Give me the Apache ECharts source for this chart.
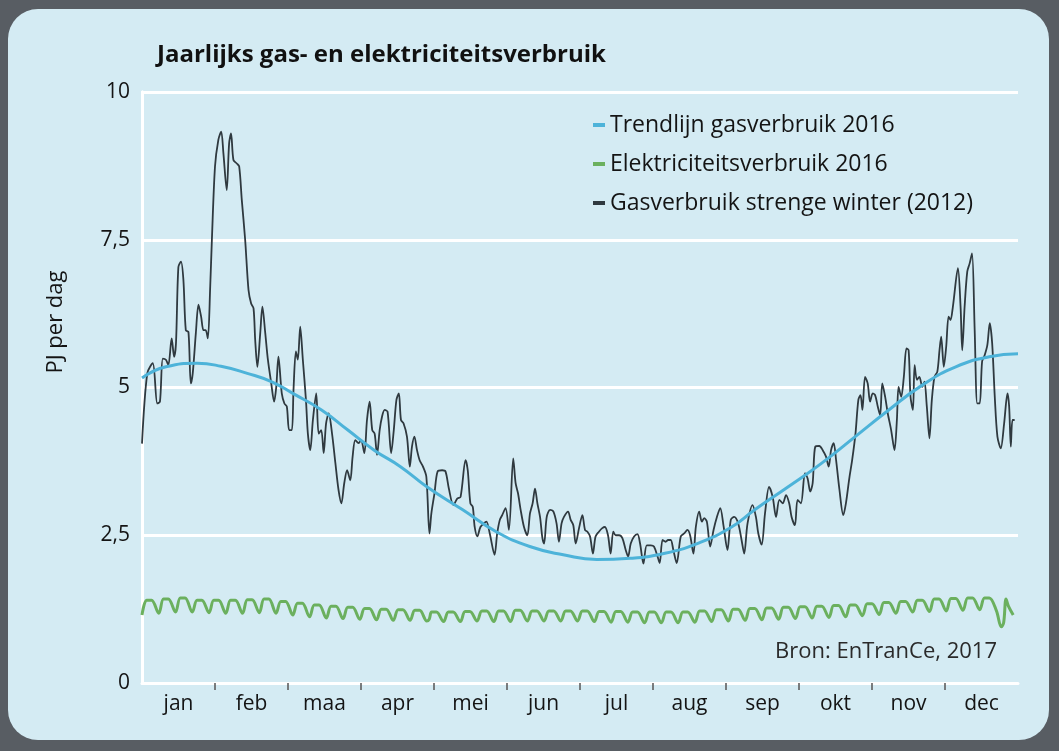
<!DOCTYPE html>
<html>
<head>
<meta charset="utf-8">
<script src="https://cdn.jsdelivr.net/npm/echarts@6/dist/echarts.min.js"></script>
<style>
  html, body { margin: 0; padding: 0; width: 1059px; height: 751px; overflow: hidden; background: #585d63; }
  #panel { position: absolute; left: 8px; top: 9px; width: 1041px; height: 731px; border-radius: 30px; background: #d4ebf3; }
  #chart { position: absolute; left: 0; top: 0; width: 1059px; height: 751px; }
</style>
</head>
<body>
<div id="panel"></div>
<div id="chart"></div>
<script>
// Month labels (x axis)
const months = ['jan','feb','maa','apr','mei','jun','jul','aug','sep','okt','nov','dec'];
// Y-axis ticks
const yTicks = [0, 2.5, 5, 7.5, 10];

// Gas consumption, cold winter 2012 (day of year, PJ per day)
const gasDays = [0,2.2,4.5,6.4,7.5,8.7,10,11,12.4,13.4,14.2,15.2,16.3,17.3,18.3,19.4,20.4,21.2,22.5,23.6,24.7,25.7,26.6,27.5,28.5,29.2,30.5,31.9,33.1,34,35.4,36.4,37.2,38.2,39.6,40.6,41.7,43.1,44.5,45.6,46.6,47.3,48.2,49.4,50.3,51.5,52.6,54,55.2,56.1,57,58.4,59.5,60.5,61.5,62.6,63.3,64.3,65.1,66.1,67.2,68.5,69.3,70.3,71.4,72.8,73.8,74.9,75.9,76.9,78,79.4,80.8,82.1,83.3,84.5,85.7,87,88,89.1,90.5,91.5,92.9,94,95.1,96.2,97.2,98.2,99.3,100.3,101.4,102.6,104.1,105.2,106.3,107.3,108.2,109.3,110.7,111.9,112.8,113.8,114.9,116,117.4,118.8,120.1,120.9,122.2,123.5,125.4,126.8,128.2,130.1,131.7,133.1,135.2,136.1,137.2,138.2,139,140.1,141.4,142.8,143.9,145.3,147.3,148.4,149.5,150.5,151.9,153.3,155.1,156.1,157.1,158.2,159.6,161,162.1,163.2,164.2,165.2,166.3,167.3,168,169.1,170.5,171.9,173.2,174.2,175.3,176.3,178,179.1,180.2,181.2,182.6,184,185.1,186.1,187.2,188.4,189.5,190.9,192.3,193.4,194.7,195.8,196.9,197.9,199.3,200.7,202.1,203.1,204.2,205.6,207,208.1,209.5,210.9,212.6,213.9,215.4,216.3,217.5,218.8,219.8,220.9,222,223.4,225.1,226.5,227.9,229,230.4,231.4,232.8,233.9,234.9,236,237.4,238.8,240.2,241.6,243,244.6,246,247.4,249.1,250.5,251.6,253,255.1,256.5,257.5,258.9,260.3,262,263.5,264.9,266.3,267.7,269.1,270.4,271.4,272.8,273.9,275.3,277,278.1,279.2,280.2,281.3,283,284.4,285.8,286.9,287.9,289,290,291.4,293,294.1,295.5,296.7,298.1,299.3,300.2,301,302.1,303.2,304.2,305.3,306.3,307.4,308.4,309.3,310.5,311.6,313,314.4,315.4,316.1,317.2,318.3,319.4,320.3,321.1,322.1,322.8,323.8,324.8,326,326.9,327.9,329,330,331.1,332.3,333.2,333.9,335,336,337,337.8,338.8,340.9,342,342.7,343.7,344.8,345.8,346.8,347.9,349,350,351,352.1,353.2,354.2,355.2,356.3,357.4,358.8,360.2,361.6,362.3,363,363.7,364.6];
const gasValues = [4.05,5.24,5.41,4.73,4.76,5.49,5.47,5.38,5.83,5.52,5.75,7.04,7.13,6.82,5.97,5.94,5.07,5.24,5.92,6.40,6.20,5.97,5.97,5.83,6.71,7.50,8.74,9.19,9.33,8.97,8.34,9.13,9.30,8.85,8.79,8.74,8.17,7.50,6.65,6.42,6.34,5.80,5.35,5.92,6.37,5.92,5.47,5.07,4.76,5.01,5.52,4.90,4.73,4.68,4.28,4.28,4.96,5.61,5.47,6.03,5.47,4.79,4.22,3.94,4.45,4.90,4.22,4.28,3.89,4.39,4.56,4.22,3.72,3.27,3.04,3.38,3.60,3.43,3.83,4.11,4.06,4.11,3.89,4.45,4.76,4.28,4.22,3.86,4.28,4.51,4.62,4.59,3.89,4.28,4.79,4.90,4.45,4.39,4.17,3.66,4.00,4.17,3.94,3.77,3.66,3.49,2.53,2.87,3.21,3.58,3.60,3.58,3.29,3.01,3.12,3.15,3.77,3.60,3.04,2.98,2.64,2.48,2.64,2.70,2.73,2.53,2.17,2.53,2.76,2.84,2.96,2.59,3.80,3.38,3.21,2.93,2.64,2.50,2.87,3.04,3.29,3.04,2.81,2.45,2.36,2.81,2.93,2.90,2.70,2.39,2.70,2.81,2.90,2.76,2.67,2.36,2.62,2.84,2.59,2.56,2.48,2.19,2.48,2.56,2.62,2.64,2.50,2.19,2.56,2.50,2.50,2.45,2.25,2.14,2.36,2.48,2.52,2.36,2.02,2.33,2.33,2.31,2.14,2.03,2.42,2.39,2.42,2.42,2.25,2.03,2.48,2.53,2.59,2.50,2.19,2.64,2.90,2.73,2.79,2.73,2.31,2.59,2.81,2.96,2.65,2.25,2.76,2.81,2.70,2.42,2.19,2.70,3.01,2.81,2.53,2.34,2.87,3.32,3.15,2.81,3.10,3.04,3.18,3.04,2.81,2.67,3.10,3.04,3.55,3.46,3.24,3.38,4.00,4.01,3.94,3.83,3.66,3.94,4.06,3.77,3.27,2.84,3.04,3.46,3.77,4.22,4.79,4.87,4.62,5.18,5.07,4.76,4.90,4.87,4.68,4.53,5.07,4.84,4.56,4.28,3.94,4.45,5.01,4.84,5.18,5.66,5.63,4.84,4.62,5.38,5.13,5.18,5.01,5.10,4.68,4.14,4.79,5.18,5.27,5.63,5.86,5.35,5.69,6.20,6.14,6.37,7.02,6.37,5.63,6.37,6.96,7.10,7.27,5.97,4.73,4.73,5.44,5.55,5.72,6.09,5.75,4.84,4.17,3.97,4.39,4.90,4.68,4.00,4.45,4.45];

// Trend line gas consumption 2016
const trendDays = [0,10,23,33,44,54,63,75,86,97,108,119,134,148,162,176,190,204,218,232,246,256,270,284,298,312,326,340,354,366];
const trendValues = [5.16,5.35,5.41,5.36,5.24,5.10,4.90,4.62,4.28,3.94,3.66,3.32,2.93,2.56,2.31,2.17,2.09,2.11,2.19,2.36,2.63,2.93,3.32,3.72,4.17,4.62,5.04,5.35,5.52,5.57];

// Electricity 2016: weekday level per week and Sunday level per week (week k starts on day 7k)
const elecWeekday = [1.40,1.42,1.44,1.40,1.40,1.40,1.41,1.42,1.38,1.35,1.32,1.30,1.28,1.26,1.25,1.24,1.23,1.20,1.20,1.21,1.22,1.22,1.23,1.22,1.22,1.22,1.22,1.21,1.21,1.20,1.20,1.20,1.20,1.22,1.24,1.25,1.26,1.27,1.28,1.29,1.30,1.31,1.32,1.34,1.36,1.38,1.40,1.42,1.43,1.44,1.44,1.42,1.29];
const elecSunday = [1.15,1.18,1.20,1.20,1.19,1.18,1.18,1.19,1.18,1.15,1.12,1.10,1.09,1.08,1.07,1.06,1.06,1.05,1.04,1.04,1.05,1.04,1.04,1.05,1.05,1.05,1.05,1.04,1.03,1.03,1.02,1.02,1.02,1.03,1.04,1.05,1.06,1.07,1.08,1.09,1.10,1.11,1.12,1.14,1.16,1.18,1.20,1.21,1.22,1.23,1.24,1.22,1.15];
// Holidays (day of year, value)
const elecHolidayDays = [120, 359, 360, 362];
const elecHolidayValues = [1.08, 0.95, 1.02, 1.30];

// Month axis: ticks at month boundaries, labels at month centres
const monthTickPos = [1,2,3,4,5,6,7,8,9,10,11];
const monthLabelPos = [0.5,1.5,2.5,3.5,4.5,5.5,6.5,7.5,8.5,9.5,10.5,11.5];

function pairs(xs, ys) { return xs.map((x, i) => [x, ys[i]]); }

const elecData = [];
for (let k = 0; k < elecSunday.length; k++) {
  const pts = [[7 * k, elecSunday[k]], [7 * k + 2, elecWeekday[k]], [7 * k + 4, elecWeekday[k]]];
  pts.forEach(p => { if (p[0] <= 365 && elecHolidayDays.indexOf(p[0]) < 0) elecData.push(p); });
}
elecHolidayDays.forEach((d, i) => elecData.push([d, elecHolidayValues[i]]));
elecData.sort((a, b) => a[0] - b[0]);

const FONT = '"Open Sans", sans-serif';
const TXT = '#141414';
const chart = echarts.init(document.getElementById('chart'), null, { renderer: 'canvas' });
chart.setOption({
  animation: false,
  backgroundColor: 'transparent',
  title: {
    text: 'Jaarlijks gas- en elektriciteitsverbruik',
    left: 157, top: 43, padding: 0,
    textStyle: { fontFamily: FONT, fontSize: 24, fontWeight: 'bold', color: '#111' }
  },
  legend: {
    orient: 'vertical', left: 593, top: 112,
    itemWidth: 12, itemHeight: 4, itemGap: 13, padding: 0,
    icon: 'rect',
    data: ['Trendlijn gasverbruik 2016', 'Elektriciteitsverbruik 2016', 'Gasverbruik strenge winter (2012)'],
    textStyle: { fontFamily: FONT, fontSize: 23, color: TXT, lineHeight: 26 }
  },
  grid: { left: 142, right: 41, top: 92, bottom: 68, containLabel: false },
  xAxis: [
    { type: 'value', min: 0, max: 366, show: false },
    {
      type: 'value', min: 0, max: 12, position: 'bottom',
      axisLine: { show: true, onZero: false, lineStyle: { color: '#ffffff', width: 3 } },
      axisTick: { show: true, customValues: monthTickPos, length: 7, lineStyle: { color: '#555', width: 1.5 } },
      axisLabel: { customValues: monthLabelPos, fontFamily: FONT, fontSize: 21, color: TXT, margin: 11,
        formatter: v => months[Math.floor(v)] },
      splitLine: { show: false }
    }
  ],
  yAxis: [
    {
      type: 'value', min: 0, max: 10, interval: 2.5,
      axisLine: { show: true, lineStyle: { color: '#ffffff', width: 3 } },
      axisTick: { show: false },
      axisLabel: { fontFamily: FONT, fontSize: 21, color: TXT, margin: 12,
        formatter: v => String(v).replace('.', ',') },
      splitLine: { show: true, lineStyle: { color: '#ffffff', width: 3 } }
    },
    {
      type: 'value', min: 0, max: 10, position: 'right',
      axisLine: { show: true, lineStyle: { color: '#ffffff', width: 3 } },
      axisTick: { show: false }, axisLabel: { show: false }, splitLine: { show: false }
    }
  ],
  graphic: [
    { type: 'text', x: 56, y: 322, rotation: Math.PI / 2,
      style: { text: 'PJ per dag', fontFamily: FONT, fontSize: 22, fill: TXT, align: 'center', verticalAlign: 'middle' } },
    { type: 'text', x: 997, y: 652,
      style: { text: 'Bron: EnTranCe, 2017', fontFamily: FONT, fontSize: 22, fill: '#2a2a2a', align: 'right', verticalAlign: 'middle' } }
  ],
  series: [
    { name: 'Gasverbruik strenge winter (2012)', type: 'line', xAxisIndex: 0, yAxisIndex: 0,
      data: pairs(gasDays, gasValues), showSymbol: false, smooth: 0.3, z: 2,
      lineStyle: { color: '#2f393f', width: 1.8 }, itemStyle: { color: '#2f393f' } },
    { name: 'Trendlijn gasverbruik 2016', type: 'line', xAxisIndex: 0, yAxisIndex: 0,
      data: pairs(trendDays, trendValues), showSymbol: false, smooth: true, z: 3,
      lineStyle: { color: '#4db3d9', width: 3 }, itemStyle: { color: '#4db3d9' } },
    { name: 'Elektriciteitsverbruik 2016', type: 'line', xAxisIndex: 0, yAxisIndex: 0,
      data: elecData, showSymbol: false, smooth: 0.35, z: 3,
      lineStyle: { color: '#6bb05e', width: 3 }, itemStyle: { color: '#6bb05e' } }
  ]
});
</script>
</body>
</html>
